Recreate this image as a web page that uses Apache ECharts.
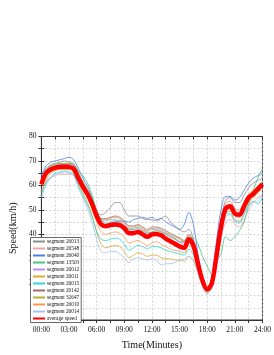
<!DOCTYPE html>
<html><head><meta charset="utf-8">
<script src="https://cdn.jsdelivr.net/npm/echarts@6/dist/echarts.min.js"></script>
<style>html,body{margin:0;padding:0;background:#fff}#c{width:274px;height:355px}</style>
</head><body><div id="c"></div>
<script>
var times = [0,30,60,90,120,150,180,210,240,270,300,330,360,390,420,450,480,510,540,570,600,630,660,690,720,750,780,810,840,870,900,930,960,990,1020,1050,1080,1110,1140,1170,1200,1230,1260,1290,1320,1350,1380,1410,1440];
var yTicks = [10,20,30,40,50,60,70,80];
var xTickLabels = ['00:00','03:00','06:00','09:00','12:00','15:00','18:00','21:00','24:00'];
var seriesNames = ['segment 26013','segment 26548','segment 26040','segment 13503','segment 26012','segment 26011','segment 26015','segment 20142','segment 32647','segment 26010','segment 26014','average speed'];
var s26013 = [63,67,68.5,69,69.5,70,69.5,69,65.5,61.5,58,54,49.5,48,49,51,53,53,50,47.5,47.5,47.5,46.5,46,46,45.5,46.5,47.5,45,43.5,42,41,42,38,30,22,18,21,33,46,54,55,53,53,56,59,61,62,63];
var s26548 = [58,61.5,63,64,64.5,64.5,64.5,64,61,58,55,51,47,44.5,44,44.5,45,45,44,42,41.5,42,41.5,40.5,41,41.5,41,40,39,38,37,36,38,35,28,21,17,19.5,28,38,45,46,44,43,46,50,53,55,56];
var s26040 = [64,68,69.5,70,70.5,71,71.5,70.5,67,63,59.5,55,48,45,44,44.5,45,45.5,45.5,45,46,46.5,47,46.5,47,46,46.5,45,44,43,42,44,49,44,32,22,17,22,37,50,55.5,55.5,54,55,58,61,63,64,65];
var s13503 = [62,66,68,68.5,69,69,69,68.5,66,64,61,56,50,46,44.5,45,45.5,45,43.5,42,42,42.5,41.5,40.5,41,41.5,41,40,39,38,37,37,38,38.5,36,31,27,23.5,29,32,39,37.5,39,41.5,45,52,58,63,67];
var s26012 = [61,66,67.5,68,68.5,68.5,68.5,68,64.5,61,58,54,49,46,45.5,46,46,45.5,44.5,42.5,42.5,43,42,41,42,42,41.5,40.5,39.5,38.5,37,36.5,39,36.5,29,21.5,17.5,20.5,32,44,51,52,49.5,49,52.5,56,57.5,59.5,61.5];
var s26011 = [57,62,65,66,66.5,66.5,66.5,65.5,61,57,53,48,41,36,34.5,35,35.5,35,33,30.5,31.5,32.5,32,31,31.5,31.5,30.5,30,30,29.5,29.5,29,31,29.5,25,19.5,16,19,30,41,48.5,49.5,46,45.5,49,53,55,57,58.5];
var s26015 = [56,61,63.5,65,65.5,66,65.5,64.5,60,56,52,47,41,38,37.5,38,38.5,38,36,33.5,34.5,35.5,35,34,35,35,34.5,33.5,33,32.5,32,31.5,34,31.5,26,20,16.5,19.5,30,41,48,48.5,45.5,45,48.5,52,53.5,52.5,55];
var s20142 = [61.5,66,67.5,68,68.5,68.5,68.5,68,64,60.5,57.5,53.5,49,46.5,46.5,47,47.5,47,45.5,43.5,43.5,44,43,42,43,43,42.5,41.5,40.5,39.5,38.5,37.5,40,37,29,21.5,17.5,20,31,42.5,49.5,50.5,47.5,47,50.5,54,56,58,60];
var s32647 = [62,66.5,68,68.5,69,69,69,68.5,65,61.5,58,54,49,46,46,46.5,47,46.5,45,43,43,43.5,42.5,41.5,42.5,42.5,42,41,40,39,38,37,39.5,36.5,29,21.5,17.5,20.5,32,43.5,51,52,49,48.5,52,55.5,57.5,59.5,61.5];
var s26010 = [60,64.5,66.5,67.5,68,68,68,67,63,59,55.5,51,45,41,40,40.5,41,40.5,39,36.5,37,37.5,36.5,35.5,36.5,37,36,35,34,33.5,33,32.5,35.5,33,27,20.5,17,20.5,32.5,45,52.5,53.5,50.5,50,53,56.5,58,60,61.5];
var s26014 = [55,60,63,64.5,65,65.5,65,64,59,55,50.5,45,38,33,32.5,33,33,32,30.5,28.5,30,30.5,30,29.5,30,29.5,27.5,28,28,28.5,29.5,30,31,29,24,18.5,15.5,18.5,29,40,47,48,45,44.5,48,51.5,53,53.5,56];
var average = [60.5,65,66.5,67.2,67.5,67.6,67.5,66.8,63,59.5,56.5,52.5,47.5,44,43.3,43.8,44,43.8,42.5,40.5,40.5,41,40,39,40,40.2,39.6,38.3,37.2,36.2,35.1,34.5,38,35.5,28,21,17.5,20,31,43,50.5,51.5,48.5,48,51.5,55,56.5,58.5,60.5];

var allData = [s26013,s26548,s26040,s13503,s26012,s26011,s26015,s20142,s32647,s26010,s26014,average];
var colors = ['#8c8c8c','#f4a3a3','#4a7fe8','#4cc283','#c38ef0','#e0a82a','#2fd6d6','#a86a6a','#b0b040','#ff9650','#a5c3ef','#ff0000'];
var FONT = "'Liberation Serif','Times New Roman',serif";

function pairs(d){ return times.map(function(t,i){ return [t,d[i]]; }); }

var series = allData.map(function(d,i){
  var avg = i === allData.length-1;
  return {
    name: seriesNames[i], type:'line', data: pairs(d), smooth: 0.35,
    symbol:'none', showSymbol:false, z: avg ? 5 : 2,
    lineStyle:{ color: colors[i], width: avg ? 4.5 : 0.8 },
    itemStyle:{ color: colors[i] }
  };
});

var chart = echarts.init(document.getElementById('c'), null, {renderer:'canvas'});
chart.setOption({
  animation:false,
  backgroundColor:'#fff',
  textStyle:{fontFamily:FONT},
  grid:{left:29, right:11.5, top:136.5, bottom:29, show:true, borderColor:'#333', borderWidth:1, backgroundColor:'transparent'},
  legend:{
    orient:'vertical', left:30.5, top:237.5, data: seriesNames,
    backgroundColor:'#fff', borderColor:'#444', borderWidth:0.8, borderRadius:0,
    padding:[1.5,2,1.5,1.5], itemWidth:12, itemHeight:5, itemGap:2,
    itemStyle:{opacity:0},
    textStyle:{fontFamily:FONT, fontSize:5.3, color:'#111', lineHeight:5, padding:[0,0,0,-3]}
  },
  xAxis:[{
    type:'value', min:0, max:1440, interval:90,
    name:'Time(Minutes)', nameLocation:'middle', nameGap:20,
    nameTextStyle:{fontFamily:FONT, fontSize:10, color:'#111'},
    axisLine:{show:true, lineStyle:{color:'#333', width:1}},
    axisTick:{show:true, inside:false, length:3, lineStyle:{color:'#333'}},
    axisLabel:{fontFamily:FONT, fontSize:7.5, color:'#111', margin:6,
      formatter:function(v){ return (v % 180 === 0) ? xTickLabels[v/180] : ''; }},
    splitLine:{show:true, lineStyle:{color:'#c8c8c8', type:[2,2], width:0.8}}
  },{
    type:'value', min:0, max:1440, interval:90, position:'top',
    axisLine:{show:true, lineStyle:{color:'#333'}},
    axisTick:{show:true, inside:true, length:3, lineStyle:{color:'#333'}},
    axisLabel:{show:false}, splitLine:{show:false}
  }],
  yAxis:[{
    type:'value', min:5, max:80, interval:5,
    name:'Speed(km/h)', nameLocation:'middle', nameGap:21,
    nameTextStyle:{fontFamily:FONT, fontSize:10, color:'#111'},
    axisLine:{show:true, lineStyle:{color:'#333', width:1}},
    axisTick:{show:true, inside:true, length:3, lineStyle:{color:'#333'}},
    axisLabel:{fontFamily:FONT, fontSize:7.5, color:'#111', margin:5,
      formatter:function(v){ return yTicks.indexOf(v) >= 0 ? String(v) : ''; }},
    splitLine:{show:true, lineStyle:{color:'#c8c8c8', type:[2,2], width:0.8}}
  },{
    type:'value', min:5, max:80, interval:5, position:'right',
    axisLine:{show:true, lineStyle:{color:'#333'}},
    axisTick:{show:true, inside:true, length:3, lineStyle:{color:'#333'}},
    axisLabel:{show:false}, splitLine:{show:false}
  }],
  series: series
});
</script></body></html>
